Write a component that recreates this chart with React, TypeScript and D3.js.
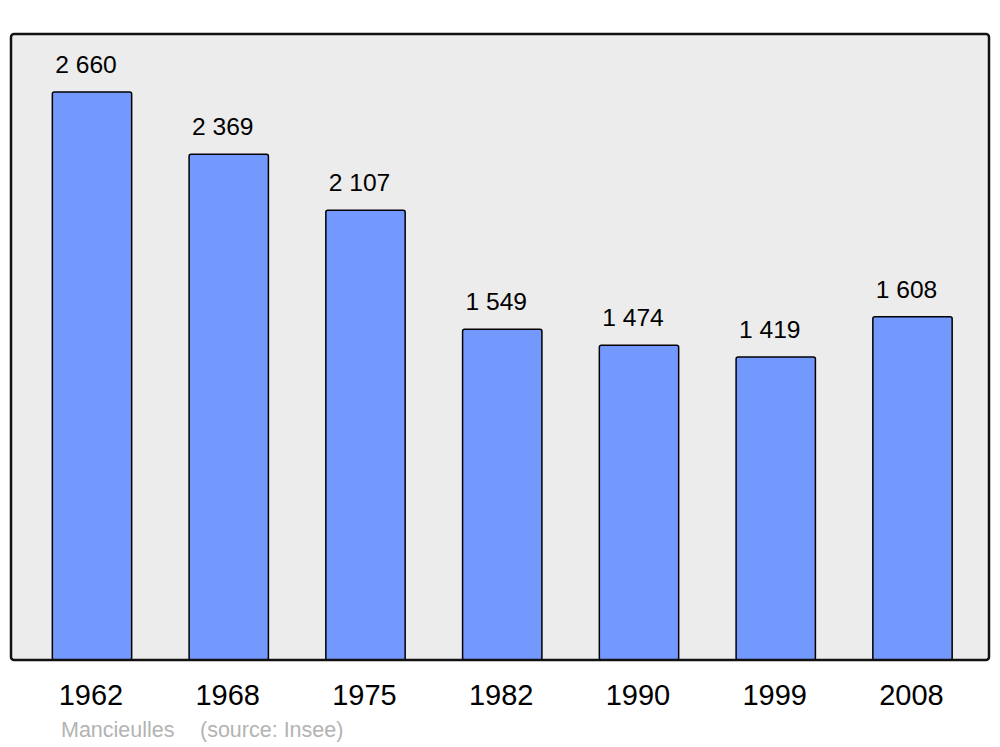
import React from "react";
import * as d3 from "d3";

const years = ["1962", "1968", "1975", "1982", "1990", "1999", "2008"];
const population = [2660, 2369, 2107, 1549, 1474, 1419, 1608];
const labels = ["2 660", "2 369", "2 107", "1 549", "1 474", "1 419", "1 608"];
const townName = "Mancieulles";
const sourceText = "(source: Insee)";

export default function App() {
  const W = 1000, H = 747;
  const panel = { x: 11, y: 34, w: 978, h: 626 };
  const step = 136.75;
  const start = 92 - step / 2 + step * 0.21;
  const xb = d3.scaleBand<string>().domain(years)
    .range([start, start + step * (years.length - 0.42)])
    .paddingInner(0.42).paddingOuter(0);
  const y = d3.scaleLinear().domain([0, 2932]).range([660, 34]);
  return (
    <svg width={W} height={H} style={{ position: "absolute", left: 0, top: 0, background: "#fff" }}
      fontFamily="'Liberation Sans', Arial, sans-serif">
      <rect x={panel.x} y={panel.y} width={panel.w} height={panel.h} rx={3} fill="#ececec" stroke="none" />
      {years.map((yr, i) => {
        const bx = xb(yr)!;
        const bw = xb.bandwidth();
        const top = y(population[i]);
        return (
          <g key={yr}>
            <rect x={bx} y={top} width={bw} height={y(0) - top} rx={2} fill="#7399ff" stroke="#000" strokeWidth={1.5} />
            <text x={bx + bw / 2 - 6} y={top - 19} textAnchor="middle" fontSize={24.6} fill="#000">{labels[i]}</text>
            <text x={bx + bw / 2 - 1} y={705} textAnchor="middle" fontSize={29} fill="#000">{yr}</text>
          </g>
        );
      })}
      <rect x={panel.x} y={panel.y} width={panel.w} height={panel.h} rx={3} fill="none" stroke="#111" strokeWidth={2.5} />
      <text x={61} y={737} fontSize={21.5} fill="#b3b3b3">{townName}</text>
      <text x={200} y={737} fontSize={21.5} fill="#b3b3b3">{sourceText}</text>
    </svg>
  );
}
